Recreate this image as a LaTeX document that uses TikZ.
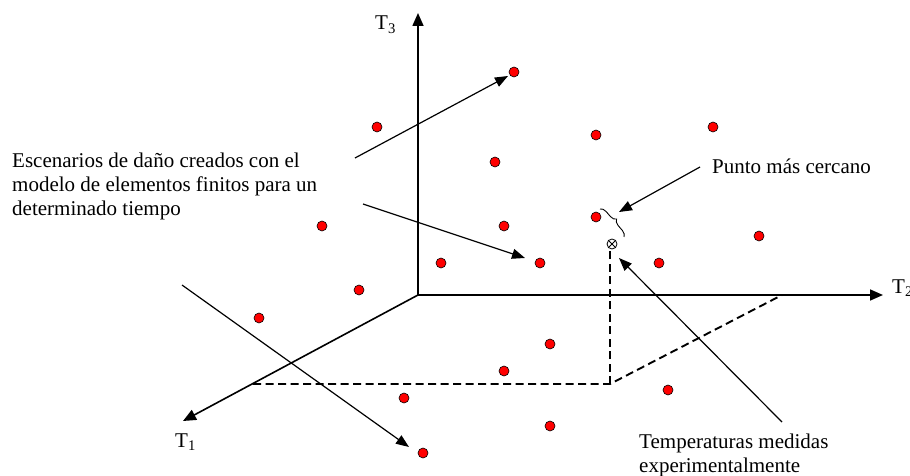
\documentclass[tikz,border=0pt]{standalone}
\usepackage{fontspec}
\setmainfont{Liberation Serif}
\usetikzlibrary{arrows.meta,decorations.pathreplacing}
\begin{document}
\begin{tikzpicture}[x=1pt,y=-1pt,
  dot/.style={circle,draw=black,fill=red,line width=0.6pt,inner sep=0pt,minimum size=10pt},
  axis/.style={line width=1.6pt,-{Triangle[length=13pt,width=11pt]}},
  pointer/.style={line width=1.2pt,-{Triangle[length=13pt,width=10pt]}},
  guide/.style={line width=1.9pt,dash pattern=on 8pt off 4.5pt},
  lbl/.style={font=\fontsize{21}{24}\selectfont,inner sep=0pt,align=left}]
\useasboundingbox (0,0) rectangle (910,476);

% axes
\coordinate (O) at (418,295);
\coordinate (T3e) at (418,13);
\coordinate (T2e) at (883,295);
\coordinate (T1e) at (183,421);
\draw[axis] (O) -- (T3e);
\draw[axis] (O) -- (T2e);
\draw[axis] (O) -- (T1e);
\node[lbl,anchor=base west] (t3) at (375,30) {T\textsubscript{3}};
\node[lbl,anchor=base west] (t2) at (892,293) {T\textsubscript{2}};
\node[lbl,anchor=base west] (t1) at (175,447) {T\textsubscript{1}};

% measured point
\node[circle,draw=black,line width=0.8pt,inner sep=0pt,minimum size=10pt] (m) at (612,244) {};
\draw[line width=0.8pt] (m.north west) -- (m.south east) (m.north east) -- (m.south west);

% dashed guides
\coordinate (A) at (253,384);
\coordinate (B) at (610,384);
\coordinate (C) at (782,295);
\coordinate (D) at (610,250);
\draw[guide] (A) -- (B) -- (C);
\draw[guide] (B) -- (D);

% dots
\foreach \n/\p in {1/{(514,72)},2/{(377,127)},3/{(596,135)},4/{(713,127)},5/{(495,162)},
  6/{(322,226)},7/{(504,226)},8/{(596,217)},9/{(759,236)},10/{(441,263)},
  11/{(540,263)},12/{(659,263)},13/{(359,290)},14/{(259,318)},15/{(550,344)},
  16/{(504,371)},17/{(668,390)},18/{(404,398)},19/{(550,426)},20/{(423,453)}}
  \node[dot] (d\n) at \p {};

% brace
\coordinate (b1) at (600,209);
\coordinate (b2) at (624,237);
\draw[line width=0.9pt,decorate,decoration={brace,amplitude=6pt}] (b1) -- (b2);

% labels (base anchor = baseline of last line)
\node[lbl,anchor=base west] (esc) at (12,215) {Escenarios de daño creados con el\\modelo de elementos finitos para un\\determinado tiempo};
\node[lbl,anchor=base west] (punto) at (712,173) {Punto más cercano};
\node[lbl,anchor=base west] (temp) at (639,472) {Temperaturas medidas\\experimentalmente};

% pointers
\coordinate (s1) at (355,158); \coordinate (e1) at (508,76);
\coordinate (s2) at (363,204); \coordinate (e2) at (525,258);
\coordinate (s3) at (182,285); \coordinate (e3) at (409,447);
\coordinate (s4) at (700,167); \coordinate (e4) at (619,212);
\coordinate (s5) at (782,422); \coordinate (e5) at (619,258);
\draw[pointer] (s1) -- (e1);
\draw[pointer] (s2) -- (e2);
\draw[pointer] (s3) -- (e3);
\draw[pointer] (s4) -- (e4);
\draw[pointer] (s5) -- (e5);
\end{tikzpicture}
\end{document}
